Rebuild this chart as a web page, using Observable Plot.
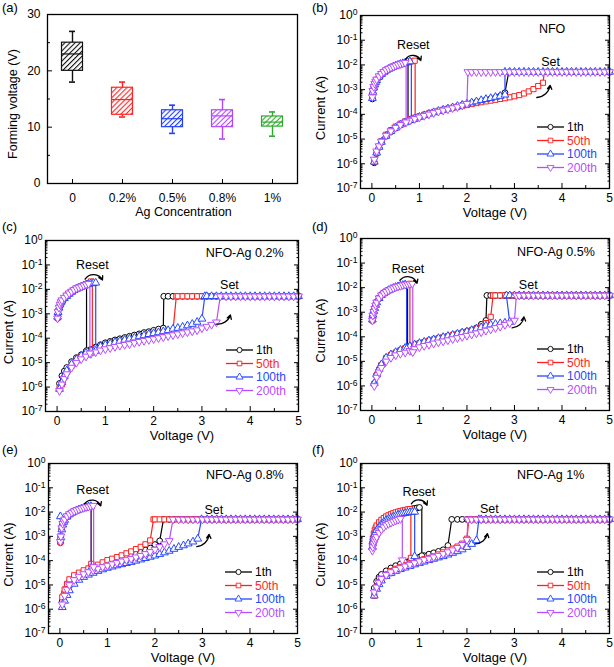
<!DOCTYPE html>
<html><head><meta charset="utf-8">
<script src="https://cdn.jsdelivr.net/npm/d3@7"></script>
<script src="https://cdn.jsdelivr.net/npm/@observablehq/plot@0.6"></script>
<style>
body{margin:0;background:#fff;}
#fig{position:relative;width:614px;height:667px;overflow:hidden;font-family:"Liberation Sans",Arial,Helvetica,sans-serif;}
.panel{position:absolute;}
.plab{position:absolute;font-size:13px;color:#000;}
</style></head><body><div id="fig"></div>
<script>
// ---------------- DATA ----------------
const seriesNames = ["1th", "50th", "100th", "200th"];
const seriesColors = ["#000000", "#ff1f1f", "#2748ff", "#b84dff"];

// panel (a): forming voltage box plot
const agLevels = ["0", "0.2%", "0.5%", "0.8%", "1%"];
const formMin = [18, 11.8, 8.9, 7.9, 8.4];
const formQ1 = [20, 12.2, 10, 10, 10.1];
const formMedian = [23, 14.9, 11.5, 12, 10.9];
const formQ3 = [25, 17, 13, 13, 11.9];
const formMax = [27, 18, 13.9, 14.9, 12.7];
const boxColors = ["#111111", "#ff2424", "#2340ff", "#b244ff", "#2eaa2e"];
const formTicks = [0, 10, 20, 30];
const formMinorTicks = [5, 15, 25];

// I-V panels
const voltTicks = [0, 1, 2, 3, 4, 5];
const currentTicks = [1e-7, 1e-6, 1e-5, 1e-4, 1e-3, 1e-2, 1e-1, 1];
const panelNames = ["NFO", "NFO-Ag 0.2%", "NFO-Ag 0.5%", "NFO-Ag 0.8%", "NFO-Ag 1%"];
const compliance = [5.2e-3, 5.2e-3, 4.8e-3, 5.0e-3, 5.0e-3];

// voltage steps of the set sweep (0 -> 5 V) and of the reset sweep
const sweepV = [0.05, 0.1, 0.15, 0.2, 0.3, 0.4, 0.5, 0.6, 0.7, 0.8, 0.9, 1.0, 1.1, 1.2, 1.3, 1.4, 1.5, 1.6, 1.7, 1.8, 1.9, 2.0, 2.1, 2.2, 2.3, 2.4, 2.5, 2.6, 2.7, 2.8, 2.9, 3.0, 3.1, 3.2, 3.3, 3.4, 3.5, 3.6, 3.7, 3.8, 3.9, 4.0, 4.1, 4.2, 4.3, 4.4, 4.5, 4.6, 4.7, 4.8, 4.9, 5.0];
const resetSweepV = [0.01, 0.02, 0.04, 0.06, 0.08, 0.1, 0.15, 0.2, 0.25, 0.3, 0.35, 0.4, 0.45, 0.5, 0.55, 0.6, 0.65, 0.7, 0.75, 0.8, 0.85, 0.9, 0.95, 1.0];

// (b) NFO  — HRS currents (A) on sweepV, set voltages, LRS currents on resetSweepV, reset voltages, current after reset
const hrsB = [
  [1.1e-6, 2.6e-6, 4.6e-6, 7.4e-6, 1.3e-5, 2.0e-5, 2.8e-5, 3.7e-5, 4.6e-5, 5.6e-5, 6.6e-5, 7.7e-5, 9.0e-5, 1.05e-4, 1.2e-4, 1.35e-4, 1.5e-4, 1.68e-4, 1.88e-4, 2.1e-4, 2.35e-4, 2.6e-4, 2.9e-4, 3.2e-4, 3.5e-4, 3.9e-4, 4.3e-4, 4.8e-4, 5.5e-4, 7.5e-4],
  [1.2e-6, 2.9e-6, 5.0e-6, 8.2e-6, 1.5e-5, 2.3e-5, 3.2e-5, 4.2e-5, 5.2e-5, 6.2e-5, 7.3e-5, 8.4e-5, 9.7e-5, 1.1e-4, 1.25e-4, 1.4e-4, 1.55e-4, 1.7e-4, 1.85e-4, 2.0e-4, 2.2e-4, 2.4e-4, 2.6e-4, 2.85e-4, 3.1e-4, 3.35e-4, 3.6e-4, 3.9e-4, 4.2e-4, 4.5e-4, 4.9e-4, 5.4e-4, 6.0e-4, 7.0e-4, 8.5e-4, 1.05e-3, 1.4e-3, 1.9e-3],
  [1.2e-6, 2.8e-6, 4.8e-6, 7.6e-6, 1.35e-5, 2.05e-5, 2.85e-5, 3.8e-5, 4.7e-5, 5.7e-5, 6.7e-5, 7.8e-5, 9.1e-5, 1.05e-4, 1.2e-4, 1.36e-4, 1.52e-4, 1.7e-4, 1.9e-4, 2.15e-4, 2.4e-4, 2.7e-4, 3.0e-4, 3.3e-4, 3.7e-4, 4.1e-4, 4.5e-4, 5.0e-4, 5.5e-4, 6.2e-4],
  [1.5e-6, 3.2e-6, 5.2e-6, 8.0e-6, 1.4e-5, 2.1e-5, 2.9e-5, 3.8e-5, 4.7e-5, 5.6e-5, 6.6e-5, 7.6e-5, 8.8e-5, 1.0e-4, 1.15e-4, 1.3e-4, 1.45e-4, 1.6e-4, 1.8e-4, 2.0e-4, 2.3e-4, 2.7e-4]
];
const setB = [2.88, 3.63, 2.8, 2.02];
const lrsB = [
  [4.2e-4, 7.5e-4, 1.1e-3, 1.5e-3, 1.9e-3, 2.3e-3, 3.1e-3, 4.0e-3, 4.9e-3, 5.7e-3, 6.5e-3, 7.3e-3, 8.1e-3, 8.9e-3, 9.7e-3, 1.05e-2, 1.12e-2, 1.19e-2, 1.26e-2],
  [4.8e-4, 8.5e-4, 1.25e-3, 1.65e-3, 2.05e-3, 2.5e-3, 3.4e-3, 4.3e-3, 5.2e-3, 6.1e-3, 6.9e-3, 7.7e-3, 8.5e-3, 9.3e-3, 1.01e-2, 1.09e-2, 1.16e-2, 1.23e-2, 1.3e-2, 1.37e-2, 1.43e-2, 1.48e-2],
  [4.5e-4, 8.0e-4, 1.2e-3, 1.6e-3, 2.0e-3, 2.4e-3, 3.3e-3, 4.2e-3, 5.1e-3, 6.0e-3, 6.8e-3, 7.6e-3, 8.4e-3, 9.2e-3, 1.0e-2, 1.08e-2, 1.15e-2, 1.22e-2, 1.3e-2, 1.37e-2],
  [5.0e-4, 9.0e-4, 1.3e-3, 1.75e-3, 2.15e-3, 2.6e-3, 3.5e-3, 4.4e-3, 5.3e-3, 6.2e-3, 7.0e-3, 7.8e-3, 8.6e-3, 9.4e-3, 1.02e-2, 1.1e-2, 1.17e-2, 1.24e-2]
];
const resetB = [0.76, 0.91, 0.83, 0.72];
const offB = [5.2e-5, 6.5e-5, 6.0e-5, 4.8e-5];

// (c) NFO-Ag 0.2%
const hrsC = [
  [1.4e-6, 2.9e-6, 4.5e-6, 6.3e-6, 1.1e-5, 1.6e-5, 2.1e-5, 2.8e-5, 3.5e-5, 4.4e-5, 5.4e-5, 6.5e-5, 7.4e-5, 8.5e-5, 9.5e-5, 1.07e-4, 1.2e-4, 1.35e-4, 1.5e-4, 1.7e-4, 1.85e-4, 2.1e-4, 2.35e-4, 2.6e-4],
  [8.9e-7, 1.3e-6, 2.5e-6, 4.0e-6, 7.4e-6, 1.17e-5, 1.66e-5, 2.1e-5, 2.6e-5, 3.2e-5, 3.8e-5, 4.5e-5, 5.1e-5, 5.8e-5, 6.5e-5, 7.2e-5, 8.5e-5, 9.3e-5, 1.05e-4, 1.17e-4, 1.3e-4, 1.48e-4, 1.6e-4, 1.75e-4, 1.85e-4, 2.0e-4],
  [8.3e-7, 1.55e-6, 2.8e-6, 4.7e-6, 8.7e-6, 1.35e-5, 1.9e-5, 2.5e-5, 3.1e-5, 3.8e-5, 4.6e-5, 5.3e-5, 6.0e-5, 6.8e-5, 7.6e-5, 8.5e-5, 9.4e-5, 1.04e-4, 1.18e-4, 1.3e-4, 1.45e-4, 1.58e-4, 1.72e-4, 1.9e-4, 2.1e-4, 2.4e-4, 2.6e-4, 2.9e-4, 3.3e-4, 3.8e-4, 4.6e-4, 6.2e-4],
  [7.0e-7, 1.3e-6, 2.2e-6, 3.4e-6, 6.3e-6, 1.0e-5, 1.4e-5, 1.8e-5, 2.3e-5, 2.7e-5, 3.2e-5, 3.6e-5, 4.0e-5, 4.5e-5, 5.0e-5, 5.4e-5, 5.8e-5, 6.5e-5, 7.2e-5, 7.9e-5, 8.6e-5, 9.3e-5, 1.02e-4, 1.12e-4, 1.23e-4, 1.35e-4, 1.48e-4, 1.62e-4, 1.78e-4, 1.95e-4, 2.15e-4, 2.6e-4, 3.0e-4, 3.6e-4, 4.5e-4]
];
const setC = [2.21, 2.47, 3.06, 3.38];
const lrsC = [
  [6.5e-4, 1.0e-3, 1.6e-3, 2.2e-3, 2.8e-3, 3.3e-3, 4.2e-3, 5.2e-3, 6.3e-3, 7.5e-3, 8.8e-3, 1.0e-2, 1.1e-2, 1.22e-2, 1.34e-2, 1.45e-2],
  [7.0e-4, 1.1e-3, 1.7e-3, 2.3e-3, 2.9e-3, 3.4e-3, 4.4e-3, 5.5e-3, 6.7e-3, 8.0e-3, 9.4e-3, 1.08e-2, 1.2e-2, 1.33e-2, 1.47e-2, 1.62e-2, 1.8e-2, 2.1e-2],
  [7.5e-4, 1.15e-3, 1.75e-3, 2.35e-3, 2.9e-3, 3.4e-3, 4.3e-3, 5.3e-3, 6.5e-3, 7.8e-3, 9.2e-3, 1.05e-2, 1.15e-2, 1.27e-2, 1.4e-2, 1.52e-2, 1.63e-2, 1.72e-2, 1.8e-2, 1.85e-2],
  [6.5e-4, 1.2e-3, 1.8e-3, 2.4e-3, 3.0e-3, 3.6e-3, 4.6e-3, 5.7e-3, 6.9e-3, 8.2e-3, 9.6e-3, 1.1e-2, 1.2e-2, 1.32e-2, 1.45e-2, 1.58e-2, 1.7e-2]
];
const resetC = [0.61, 0.73, 0.8, 0.68];
const offC = [3.1e-5, 2.6e-5, 3.0e-5, 2.4e-5];

// (d) NFO-Ag 0.5%
const hrsD = [
  [1.25e-6, 2.8e-6, 4.6e-6, 7.3e-6, 1.4e-5, 1.85e-5, 2.3e-5, 2.9e-5, 3.5e-5, 4.1e-5, 4.8e-5, 5.5e-5, 6.2e-5, 7.0e-5, 7.8e-5, 8.7e-5, 9.8e-5, 1.08e-4, 1.2e-4, 1.35e-4, 1.5e-4, 1.66e-4, 1.9e-4, 2.3e-4, 3.2e-4, 4.6e-4],
  [1.2e-6, 2.7e-6, 4.5e-6, 7.0e-6, 1.35e-5, 1.8e-5, 2.25e-5, 2.8e-5, 3.4e-5, 4.0e-5, 4.7e-5, 5.4e-5, 6.1e-5, 6.9e-5, 7.7e-5, 8.6e-5, 9.6e-5, 1.06e-4, 1.18e-4, 1.3e-4, 1.45e-4, 1.6e-4, 1.8e-4, 2.1e-4, 2.6e-4, 3.6e-4, 6.5e-4],
  [1.3e-6, 2.9e-6, 4.8e-6, 7.5e-6, 1.4e-5, 1.9e-5, 2.35e-5, 2.9e-5, 3.5e-5, 4.1e-5, 4.8e-5, 5.5e-5, 6.2e-5, 7.0e-5, 7.8e-5, 8.7e-5, 9.7e-5, 1.07e-4, 1.18e-4, 1.32e-4, 1.48e-4, 1.63e-4, 1.85e-4, 2.1e-4, 2.4e-4, 2.8e-4, 3.1e-4, 3.3e-4, 3.5e-4, 3.7e-4, 4.0e-4],
  [1.0e-6, 2.2e-6, 3.6e-6, 5.5e-6, 1.0e-5, 1.4e-5, 1.8e-5, 2.05e-5, 2.3e-5, 2.7e-5, 3.2e-5, 3.8e-5, 4.3e-5, 4.8e-5, 5.4e-5, 6.0e-5, 6.6e-5, 7.3e-5, 8.1e-5, 9.0e-5, 1.0e-4, 1.12e-4, 1.25e-4, 1.4e-4, 1.55e-4, 1.8e-4, 2.0e-4, 2.3e-4, 2.6e-4, 3.1e-4, 3.6e-4, 4.6e-4]
];
const setD = [2.42, 2.55, 2.83, 3.04];
const lrsD = [
  [4.5e-4, 7.2e-4, 1.0e-3, 1.35e-3, 1.85e-3, 2.4e-3, 3.6e-3, 4.8e-3, 5.8e-3, 6.7e-3, 7.7e-3, 8.6e-3, 9.5e-3, 1.04e-2, 1.11e-2, 1.19e-2, 1.26e-2, 1.32e-2],
  [4.8e-4, 7.6e-4, 1.07e-3, 1.45e-3, 1.95e-3, 2.55e-3, 3.8e-3, 5.0e-3, 6.0e-3, 6.9e-3, 7.9e-3, 8.8e-3, 9.7e-3, 1.06e-2, 1.13e-2, 1.21e-2, 1.28e-2, 1.34e-2, 1.39e-2, 1.43e-2],
  [5.0e-4, 7.8e-4, 1.1e-3, 1.45e-3, 1.95e-3, 2.5e-3, 3.7e-3, 4.9e-3, 5.9e-3, 6.8e-3, 7.8e-3, 8.7e-3, 9.6e-3, 1.05e-2, 1.12e-2, 1.2e-2, 1.27e-2, 1.33e-2],
  [4.6e-4, 7.4e-4, 1.04e-3, 1.4e-3, 1.9e-3, 2.5e-3, 3.7e-3, 4.9e-3, 5.9e-3, 6.8e-3, 7.8e-3, 8.7e-3, 9.6e-3, 1.05e-2, 1.12e-2, 1.2e-2, 1.27e-2, 1.33e-2, 1.38e-2, 1.42e-2, 1.45e-2]
];
const resetD = [0.75, 0.8, 0.73, 0.86];
const offD = [3.4e-5, 2.7e-5, 3.2e-5, 2.4e-5];

// (e) NFO-Ag 0.8%
const hrsE = [
  [2.2e-6, 5.0e-6, 8.5e-6, 1.3e-5, 2.0e-5, 2.7e-5, 3.3e-5, 3.9e-5, 4.6e-5, 5.3e-5, 6.2e-5, 7.2e-5, 8.2e-5, 9.4e-5, 1.08e-4, 1.3e-4, 1.6e-4, 1.85e-4, 2.2e-4, 2.7e-4, 3.3e-4, 4.6e-4, 6.5e-4],
  [3.1e-6, 6.5e-6, 1.1e-5, 1.7e-5, 2.5e-5, 3.2e-5, 4.0e-5, 4.8e-5, 5.6e-5, 6.8e-5, 8.5e-5, 1.05e-4, 1.2e-4, 1.4e-4, 1.65e-4, 2.0e-4, 2.4e-4, 3.0e-4, 3.7e-4, 4.7e-4, 6.8e-4],
  [1.2e-6, 2.2e-6, 3.8e-6, 5.9e-6, 1.1e-5, 1.6e-5, 2.1e-5, 2.6e-5, 3.1e-5, 3.7e-5, 4.3e-5, 5.0e-5, 5.6e-5, 6.3e-5, 7.0e-5, 7.8e-5, 8.7e-5, 9.8e-5, 1.1e-4, 1.25e-4, 1.42e-4, 1.6e-4, 1.85e-4, 2.15e-4, 2.5e-4, 3.0e-4, 3.6e-4, 4.2e-4, 5.0e-4, 6.0e-4, 7.9e-4],
  [1.6e-6, 3.6e-6, 6.5e-6, 1.0e-5, 1.6e-5, 2.2e-5, 2.8e-5, 3.4e-5, 4.0e-5, 4.7e-5, 5.5e-5, 6.3e-5, 7.2e-5, 8.2e-5, 9.4e-5, 1.07e-4, 1.2e-4, 1.38e-4, 1.6e-4, 1.9e-4, 2.3e-4, 2.9e-4, 3.7e-4, 4.8e-4, 6.5e-4]
];
const setE = [2.18, 1.97, 2.98, 2.38];
const lrsE = [
  [5.5e-4, 9.5e-4, 2.0e-3, 3.1e-3, 4.0e-3, 4.8e-3, 6.5e-3, 8.0e-3, 9.3e-3, 1.05e-2, 1.17e-2, 1.28e-2, 1.38e-2, 1.48e-2, 1.58e-2, 1.67e-2, 1.75e-2],
  [6.0e-4, 1.0e-3, 2.1e-3, 3.2e-3, 4.1e-3, 4.9e-3, 6.6e-3, 8.1e-3, 9.4e-3, 1.06e-2, 1.18e-2, 1.29e-2, 1.39e-2, 1.49e-2, 1.59e-2, 1.68e-2, 1.76e-2],
  [6.6e-3, 9.0e-4, 1.9e-3, 3.0e-3, 3.9e-3, 4.7e-3, 6.4e-3, 7.9e-3, 9.2e-3, 1.04e-2, 1.16e-2, 1.27e-2, 1.37e-2, 1.47e-2, 1.57e-2, 1.66e-2, 1.74e-2],
  [6.0e-4, 1.0e-3, 2.2e-3, 3.3e-3, 4.2e-3, 5.0e-3, 6.8e-3, 8.3e-3, 9.6e-3, 1.08e-2, 1.2e-2, 1.3e-2, 1.4e-2, 1.5e-2, 1.6e-2, 1.7e-2, 1.78e-2, 1.85e-2]
];
const resetE = [0.66, 0.66, 0.66, 0.71];
const offE = [6.0e-5, 7.4e-5, 5.0e-5, 5.5e-5];

// (f) NFO-Ag 1%
const hrsF = [
  [7.5e-6, 1.4e-5, 2.1e-5, 2.7e-5, 3.8e-5, 5.0e-5, 6.2e-5, 7.4e-5, 8.6e-5, 1.0e-4, 1.2e-4, 1.4e-4, 1.6e-4, 1.85e-4, 2.1e-4, 2.4e-4, 2.8e-4, 4.2e-4],
  [3.6e-6, 8.0e-6, 1.3e-5, 1.8e-5, 2.7e-5, 3.7e-5, 4.6e-5, 5.5e-5, 6.5e-5, 7.5e-5, 8.7e-5, 1.0e-4, 1.15e-4, 1.3e-4, 1.5e-4, 1.8e-4, 2.2e-4, 2.6e-4, 3.1e-4, 3.8e-4, 5.0e-4, 8.0e-4],
  [3.6e-6, 6.8e-6, 1.05e-5, 1.5e-5, 2.3e-5, 3.0e-5, 3.7e-5, 4.4e-5, 5.1e-5, 5.9e-5, 6.9e-5, 7.9e-5, 9.0e-5, 1.03e-4, 1.17e-4, 1.33e-4, 1.5e-4, 1.75e-4, 2.05e-4, 2.4e-4, 2.85e-4, 3.6e-4, 4.8e-4, 6.8e-4],
  [5.0e-6, 8.0e-6, 1.25e-5, 1.8e-5, 2.6e-5, 3.4e-5, 4.2e-5, 5.0e-5, 5.9e-5, 6.9e-5, 8.1e-5, 9.5e-5, 1.08e-4, 1.22e-4, 1.4e-4, 1.62e-4, 1.9e-4, 2.25e-4, 2.7e-4, 3.4e-4, 4.5e-4, 7.2e-4]
];
const setF = [1.68, 2.04, 2.25, 2.02];
const lrsF = [
  [3.5e-4, 6.0e-4, 1.0e-3, 1.4e-3, 1.8e-3, 2.2e-3, 3.1e-3, 4.0e-3, 4.9e-3, 5.8e-3, 6.6e-3, 7.4e-3, 8.2e-3, 9.0e-3, 9.8e-3, 1.05e-2, 1.12e-2, 1.18e-2, 1.24e-2, 1.3e-2, 1.36e-2, 1.42e-2, 1.48e-2, 1.55e-2],
  [4.5e-4, 8.0e-4, 1.3e-3, 1.8e-3, 2.3e-3, 2.8e-3, 3.8e-3, 4.8e-3, 5.7e-3, 6.6e-3, 7.4e-3, 8.2e-3, 9.0e-3, 9.7e-3, 1.04e-2, 1.1e-2, 1.16e-2, 1.22e-2, 1.28e-2, 1.33e-2],
  [3.6e-4, 6.0e-4, 9.0e-4, 1.2e-3, 1.5e-3, 1.8e-3, 2.5e-3, 3.2e-3, 3.9e-3, 4.6e-3, 5.2e-3, 5.8e-3, 6.4e-3, 7.0e-3, 7.6e-3, 8.1e-3, 8.6e-3, 9.0e-3, 9.4e-3, 9.8e-3, 1.0e-2, 1.02e-2],
  [2.6e-4, 3.6e-4, 5.0e-4, 6.3e-4, 7.8e-4, 9.5e-4, 1.4e-3, 1.9e-3, 2.4e-3, 2.9e-3, 3.3e-3, 3.7e-3, 4.1e-3, 4.5e-3, 4.9e-3, 5.3e-3]
];
const resetF = [1.05, 0.82, 0.9, 0.64];
const offF = [1.6e-4, 1.3e-4, 1.5e-4, 1.05e-4];

// ---------------- DRAWING ----------------
const FONT = '"Liberation Sans", Arial, Helvetica, sans-serif';
const fig = document.getElementById("fig");
const SVGNS = "http://www.w3.org/2000/svg";
const R = 2.9;
const sqrt3 = Math.sqrt(3);
const symbolTriangleDown = {
  draw(context, size) {
    const y = -Math.sqrt(size / (sqrt3 * 3));
    context.moveTo(0, -y * 2);
    context.lineTo(-sqrt3 * y, y);
    context.lineTo(sqrt3 * y, y);
    context.closePath();
  }
};
const seriesSymbols = [d3.symbolCircle, d3.symbolSquare, d3.symbolTriangle, symbolTriangleDown];

function place(el, left, top) {
  const d = document.createElement("div");
  d.className = "panel";
  d.style.left = left + "px";
  d.style.top = top + "px";
  d.appendChild(el);
  fig.appendChild(d);
}
function letter(t, left, top) {
  const d = document.createElement("div");
  d.className = "plab";
  d.textContent = t;
  d.style.left = left + "px";
  d.style.top = top + "px";
  fig.appendChild(d);
}
function superscripts(svg) {
  svg.querySelectorAll("text").forEach(t => {
    const m = /^10\^(-?\d+)$/.exec(t.textContent);
    if (!m) return;
    t.textContent = "";
    const a = document.createElementNS(SVGNS, "tspan");
    a.textContent = "10";
    const b = document.createElementNS(SVGNS, "tspan");
    b.setAttribute("dy", "-0.45em");
    b.setAttribute("font-size", "0.72em");
    b.textContent = m[1];
    t.append(a, b);
  });
}
const plotStyle = {fontFamily: FONT, fontSize: "12px", color: "black", background: "transparent", overflow: "visible"};

// ---- panel (a)
(function () {
  const W = 307, H = 222, ml = 47, mr = 10, mt = 14, mb = 39;
  const boxes = agLevels.map((c, k) => ({c, k, lo: formMin[k], q1: formQ1[k], med: formMedian[k], q3: formQ3[k], hi: formMax[k]}));
  const marks = [
    Plot.axisY({anchor: "left", ticks: formTicks, tickSize: 0, tickPadding: 7, label: null}),
    Plot.axisY({anchor: "left", ticks: formTicks, tickSize: -5, tickFormat: () => "", label: null}),
    Plot.axisY({anchor: "left", ticks: formMinorTicks, tickSize: -3, tickFormat: () => "", label: null}),
    Plot.axisX({anchor: "bottom", tickSize: 0, tickPadding: 10, label: null}),
    Plot.axisX({anchor: "bottom", tickSize: -4, tickFormat: () => "", label: null})
  ];
  boxes.forEach(d => {
    const col = boxColors[d.k];
    marks.push(
      Plot.ruleX([d], {x: "c", y1: "lo", y2: "hi", stroke: col, strokeWidth: 1.4}),
      Plot.tickY([d], {x: "c", y: "lo", stroke: col, strokeWidth: 1.6, insetLeft: 22, insetRight: 22}),
      Plot.tickY([d], {x: "c", y: "hi", stroke: col, strokeWidth: 1.6, insetLeft: 22, insetRight: 22}),
      Plot.barY([d], {x: "c", y1: "q1", y2: "q3", fill: `url(#hatch${d.k})`, stroke: col, strokeWidth: 1.2, insetLeft: 14.5, insetRight: 14.5}),
      Plot.tickY([d], {x: "c", y: "med", stroke: col, strokeWidth: 1.2, insetLeft: 14.5, insetRight: 14.5})
    );
  });
  marks.push(
    Plot.frame({stroke: "black", strokeWidth: 1.3}),
    Plot.text(["Ag Concentration"], {text: d => d, frameAnchor: "bottom", lineAnchor: "middle", textAnchor: "middle", dy: 28, dx: 11, fontSize: 12.5}),
    Plot.text(["Forming voltage (V)"], {text: d => d, frameAnchor: "left", rotate: -90, textAnchor: "middle", lineAnchor: "middle", dx: -35, dy: 5, fontSize: 12.5})
  );
  const svg = Plot.plot({
    width: W, height: H, marginLeft: ml, marginRight: mr, marginTop: mt, marginBottom: mb,
    x: {type: "band", domain: agLevels, padding: 0},
    y: {domain: [0, 30]},
    style: plotStyle,
    marks
  });
  const defs = boxColors.map((col, k) =>
    `<pattern id="hatch${k}" width="3.6" height="3.6" patternUnits="userSpaceOnUse" patternTransform="rotate(45)">` +
    `<rect width="3.6" height="3.6" fill="white"/><line x1="0" y1="0" x2="0" y2="3.6" stroke="${col}" stroke-width="2.2"/></pattern>`).join("");
  svg.insertAdjacentHTML("afterbegin", `<defs>${defs}</defs>`);
  place(svg, 0, 0);
})();

// ---- I-V panels
const ivData = [
  {hrs: hrsB, set: setB, lrs: lrsB, reset: resetB, off: offB},
  {hrs: hrsC, set: setC, lrs: lrsC, reset: resetC, off: offC},
  {hrs: hrsD, set: setD, lrs: lrsD, reset: resetD, off: offD},
  {hrs: hrsE, set: setE, lrs: lrsE, reset: resetE, off: offE},
  {hrs: hrsF, set: setF, lrs: lrsF, reset: resetF, off: offF}
];
const ivLayout = [
  {left: 307, top: 0, H: 222, ml: 53, mr: 5, mt: 15, mb: 34, ylx: 13,
   name: [4.07, 0.29], resetT: [0.87, 0.066], setT: [3.76, 0.0135],
   resetA: [0.71, 0.017, 1.03, 0.015], setA: [3.47, 4.8e-4, 3.75, 1.5e-3]},
  {left: 0, top: 220, H: 222, ml: 45, mr: 9, mt: 20, mb: 31, ylx: 8,
   name: [4.69, 0.31], resetT: [0.73, 0.1], setT: [3.57, 0.0148],
   resetA: [0.58, 0.026, 0.94, 0.024], setA: [3.29, 3.8e-4, 3.59, 8.9e-4]},
  {left: 307, top: 220, H: 222, ml: 53, mr: 5, mt: 18, mb: 32, ylx: 13,
   name: [4.69, 0.28], resetT: [0.76, 0.056], setT: [3.29, 0.0132],
   resetA: [0.59, 0.02, 0.95, 0.015], setA: [2.95, 2.3e-4, 3.2, 6.4e-4]},
  {left: 0, top: 440, H: 227, ml: 48, mr: 10, mt: 23, mb: 34, ylx: 8,
   name: [4.71, 0.35], resetT: [0.69, 0.079], setT: [3.24, 0.0125],
   resetA: [0.52, 0.022, 0.86, 0.018], setA: [2.88, 3.8e-4, 3.14, 1.2e-3]},
  {left: 307, top: 440, H: 227, ml: 53, mr: 5, mt: 23, mb: 34, ylx: 13,
   name: [4.47, 0.35], resetT: [0.99, 0.067], setT: [2.47, 0.014],
   resetA: [0.83, 0.022, 1.16, 0.019], setA: [2.17, 4.9e-4, 2.43, 1.3e-3]}
];

ivData.forEach((p, pi) => {
  const L = ivLayout[pi];
  const W = 307;
  const comp = compliance[pi];
  const minorY = currentTicks.slice(0, -1).flatMap(d => [2, 3, 4, 5, 6, 7, 8, 9].map(m => m * d));
  const minorX = voltTicks.slice(0, -1).map(d => d + 0.5);
  const marks = [
    Plot.axisY({anchor: "left", ticks: currentTicks, tickSize: 0, tickPadding: 3, tickFormat: d => "10^" + Math.round(Math.log10(d)), label: null}),
    Plot.axisY({anchor: "left", ticks: currentTicks, tickSize: -5, tickFormat: () => "", label: null}),
    Plot.axisY({anchor: "left", ticks: minorY, tickSize: -2.5, tickFormat: () => "", label: null}),
    Plot.axisY({anchor: "right", ticks: currentTicks, tickSize: -5, tickFormat: () => "", label: null}),
    Plot.axisY({anchor: "right", ticks: minorY, tickSize: -2.5, tickFormat: () => "", label: null}),
    Plot.axisX({anchor: "bottom", ticks: voltTicks, tickSize: 0, tickPadding: 5, tickFormat: d => String(d), label: null}),
    Plot.axisX({anchor: "bottom", ticks: voltTicks, tickSize: -5, tickFormat: () => "", label: null}),
    Plot.axisX({anchor: "bottom", ticks: minorX, tickSize: -3, tickFormat: () => "", label: null})
  ];
  for (let s = 0; s < 4; s++) {
    const col = seriesColors[s], sym = seriesSymbols[s];
    const hrsPts = p.hrs[s].map((i, k) => ({v: sweepV[k], i}));
    const compPts = sweepV.filter(v => v > p.set[s] + 0.02).map(v => ({v, i: comp}));
    const setLine = [...hrsPts, {v: p.set[s], i: comp}, ...compPts];
    const lrsPts = p.lrs[s].map((i, k) => ({v: resetSweepV[k], i}));
    const lastI = p.lrs[s][p.lrs[s].length - 1];
    const resetLine = [...lrsPts, {v: p.reset[s], i: lastI}, {v: p.reset[s], i: p.off[s]}];
    const resetMarks = [...lrsPts, {v: p.reset[s], i: p.off[s]}];
    marks.push(
      Plot.line(setLine, {x: "v", y: "i", stroke: col, strokeWidth: 1.2}),
      Plot.line(resetLine, {x: "v", y: "i", stroke: col, strokeWidth: 1.2}),
      Plot.dot(setLine, {x: "v", y: "i", symbol: sym, r: R, stroke: col, fill: "white", strokeWidth: 1}),
      Plot.dot(resetMarks, {x: "v", y: "i", symbol: sym, r: R, stroke: col, fill: "white", strokeWidth: 1})
    );
  }
  marks.push(
    Plot.frame({stroke: "black", strokeWidth: 1.3}),
    Plot.text([panelNames[pi]], {text: d => d, x: L.name[0], y: L.name[1], textAnchor: "end", fontSize: 12.5}),
    Plot.text(["Reset"], {text: d => d, x: L.resetT[0], y: L.resetT[1], fontSize: 12.5}),
    Plot.text(["Set"], {text: d => d, x: L.setT[0], y: L.setT[1], fontSize: 12.5}),
    Plot.arrow([0], {x1: L.resetA[0], y1: L.resetA[1], x2: L.resetA[2], y2: L.resetA[3], bend: 60, headLength: 5, strokeWidth: 1.3, stroke: "black"}),
    Plot.arrow([0], {x1: L.setA[0], y1: L.setA[1], x2: L.setA[2], y2: L.setA[3], bend: -40, headLength: 5, strokeWidth: 1.3, stroke: "black"}),
    Plot.text(["Voltage (V)"], {text: d => d, frameAnchor: "bottom", lineAnchor: "middle", textAnchor: "middle", dy: 24, dx: 10, fontSize: 13}),
    Plot.text(["Current (A)"], {text: d => d, frameAnchor: "left", rotate: -90, textAnchor: "middle", lineAnchor: "middle", dx: L.ylx - L.ml, dy: 6, fontSize: 13})
  );
  const svg = Plot.plot({
    width: W, height: L.H, marginLeft: L.ml, marginRight: L.mr, marginTop: L.mt, marginBottom: L.mb,
    x: {domain: [-0.24, 5]},
    y: {type: "log", domain: [1e-7, 1]},
    style: plotStyle,
    marks
  });
  superscripts(svg);
  // legend
  const right = W - L.mr, bottom = L.H - L.mb;
  const g = d3.select(svg).append("g").attr("font-family", FONT).attr("font-size", 12).attr("text-anchor", "start");
  seriesNames.forEach((name, k) => {
    const y = bottom - 61 + 13.5 * k;
    g.append("line").attr("x1", right - 72).attr("x2", right - 45).attr("y1", y).attr("y2", y)
      .attr("stroke", seriesColors[k]).attr("stroke-width", 1.3);
    g.append("path").attr("transform", `translate(${right - 58.5},${y})`)
      .attr("d", d3.symbol(seriesSymbols[k], Math.PI * 2.6 * 2.6)())
      .attr("fill", "white").attr("stroke", seriesColors[k]).attr("stroke-width", 0.9);
    g.append("text").attr("x", right - 42).attr("y", y).attr("dy", "0.35em").attr("text-anchor", "start")
      .attr("fill", seriesColors[k]).text(name);
  });
  place(svg, L.left, L.top);
});

letter("(a)", 2, 0);
letter("(b)", 312, 0);
letter("(c)", 2, 219);
letter("(d)", 312, 219);
letter("(e)", 2, 442);
letter("(f)", 312, 442);
</script></body></html>
